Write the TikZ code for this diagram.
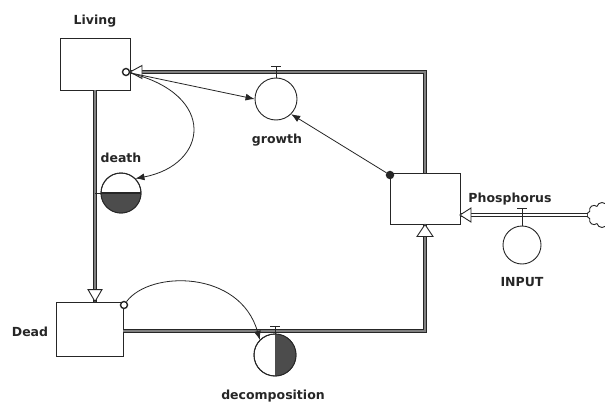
\documentclass[tikz,border=0pt]{standalone}
\usepackage{fontspec}
\setmainfont{DejaVu Sans}
\usetikzlibrary{arrows.meta,shapes.symbols}
\begin{document}
\begin{tikzpicture}[x=1pt,y=-1pt,
  stockbox/.style={draw=black!85, line width=0.9pt, fill=white, inner sep=0pt},
  conv/.style={draw=black!85, line width=0.9pt, circle, inner sep=0pt},
  pipe/.style={draw=black!85, line width=1.3pt, double=black!50, double distance=1.6pt},
  inpipe/.style={draw=black!85, line width=1.1pt, double=white, double distance=1.6pt},
  hollowtip/.style={draw=black!85, line width=0.9pt, fill=white, line join=miter},
  valve/.style={draw=black!85, line width=0.9pt},
  conn/.style={draw=black!85, line width=0.8pt, -{Latex[length=9pt,width=7pt]}},
  origin/.style={circle, draw=black!85, line width=1.4pt, fill=white, inner sep=0pt, minimum size=7pt},
  darkfill/.style={fill=black!70},
  lbl/.style={font=\bfseries\fontsize{12.5}{14}\selectfont, text=black!85, inner sep=0pt}]
\clip (0,0) rectangle (605,404);
\fill[white] (0,0) rectangle (605,404);

% stocks
\node[stockbox, minimum width=70pt, minimum height=52pt] (living) at (95,64) {};
\node[stockbox, minimum width=67pt, minimum height=54pt] (dead) at (89.5,329) {};
\node[stockbox, minimum width=70pt, minimum height=51pt] (phos) at (425,198.5) {};

% labels
\node[lbl] (tliving) at (95,21) {Living};
\node[lbl] (tdead) at (30,332) {Dead};
\node[lbl] (tphos) at (510,199) {Phosphorus};
\node[lbl] (tgrowth) at (277,140) {growth};
\node[lbl] (tdeath) at (121,158) {death};
\node[lbl] (tdecomp) at (273,396) {decomposition};
\node[lbl] (tinput) at (522,282) {INPUT};

% cloud
\node[cloud, draw=black!85, line width=0.9pt, fill=white, cloud puffs=8, aspect=1.2,
      minimum width=30pt, minimum height=25pt, inner sep=0pt] (cloud) at (602,215) {};

% key points of the pipes
\coordinate (lin) at (130,72);
\coordinate (dout) at (123,331);
\coordinate (dcorner) at (425,331);
\coordinate (pin) at (460,215);

% pipes
\draw[pipe] (phos.north) |- (lin);
\draw[pipe] (living.south) -- (living.south |- dead.north);
\draw[pipe] (dout) -- (dcorner) -- (phos.south);
\draw[inpipe] (cloud.west) -- (pin);

% hollow flow arrowheads
\draw[hollowtip] (lin) -- ++(12,-6.5) -- ++(0,13) -- cycle;
\draw[hollowtip] (living.south |- dead.north) -- ++(-7,-12) -- ++(14,0) -- cycle;
\draw[hollowtip] (phos.south) -- ++(-8,12) -- ++(16,0) -- cycle;
\draw[hollowtip] (pin) -- ++(11,-7) -- ++(0,14) -- cycle;

% converters
\node[conv, minimum size=42pt] (growth) at (276,99) {};
\node[conv, minimum size=40pt] (death) at (121,193) {};
\node[conv, minimum size=42pt] (decomp) at (275,355) {};
\node[conv, minimum size=38pt] (input) at (522,245) {};

\begin{scope}
  \clip (95,193) rectangle (145,220);
  \fill[darkfill] (death.center) circle[radius=20];
\end{scope}
\draw[draw=black!85, line width=1.2pt] (death.west) -- (death.east);
\draw[draw=black!85, line width=0.9pt] (death.center) circle[radius=20];
\begin{scope}
  \clip (275,330) rectangle (300,380);
  \fill[darkfill] (decomp.center) circle[radius=21];
\end{scope}
\draw[draw=black!85, line width=0.9pt] (decomp.center) circle[radius=21];

% valves
\draw[valve] (growth.north) -- ++(0,-11) ++(-5,0) -- ++(10,0);
\draw[valve] (decomp.north) -- ++(0,-7) ++(-5,0) -- ++(10,0);
\draw[valve] (input.north) -- ++(0,-17) ++(-5,0) -- ++(10,0);
\draw[valve] (living.south |- death.center) -- (death.west);

% connectors
\node[origin] (oliv) at (126,72) {};
\node[origin, fill=black!85] (ophos) at (390,175) {};
\node[origin] (odead) at (124,305) {};

\draw[conn] (oliv) -- (growth.west);
\draw[conn] (ophos) -- (growth.south east);
\draw[conn] (oliv) .. controls (218,95) and (208,165) .. (death.north east);
\draw[conn] (odead) .. controls (150,270) and (240,270) .. (decomp.north west);
\end{tikzpicture}
\end{document}
